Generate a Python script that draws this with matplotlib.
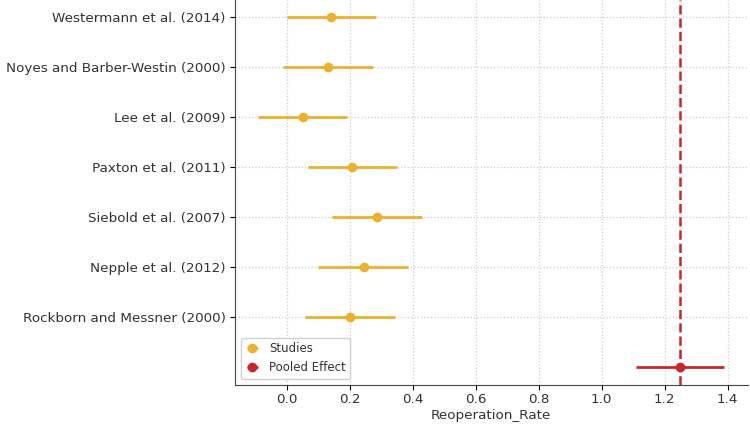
import matplotlib
matplotlib.use("Agg")
import matplotlib.pyplot as plt
import numpy as np

# study names, bottom to top
studies = ["Rockborn and Messner (2000)", "Nepple et al. (2012)", "Siebold et al. (2007)",
           "Paxton et al. (2011)", "Lee et al. (2009)", "Noyes and Barber-Westin (2000)",
           "Westermann et al. (2014)"]
rates = [0.200, 0.244, 0.286, 0.206, 0.051, 0.130, 0.140]
ci_low = [0.057, 0.100, 0.143, 0.067, -0.092, -0.013, 0.000]
ci_high = [0.343, 0.384, 0.429, 0.349, 0.190, 0.273, 0.283]

pooled = 1.25
pooled_low = 1.11
pooled_high = 1.39

study_col = "#EBB12F"
pooled_col = "#C8282A"
text_col = "#333333"

fig = plt.figure(figsize=(7.5, 4.32), dpi=100)
ax = fig.add_axes([0.313, 0.109, 0.684, 0.891])

y = np.arange(1, len(studies) + 1)
r = np.array(rates)
err = [r - np.array(ci_low), np.array(ci_high) - r]
ax.errorbar(r, y, xerr=err, fmt="o", color=study_col, ecolor=study_col,
            elinewidth=2, markersize=6, label="Studies", zorder=3)
ax.errorbar([pooled], [0], xerr=[[pooled - pooled_low], [pooled_high - pooled]],
            fmt="o", color=pooled_col, ecolor=pooled_col, elinewidth=2,
            markersize=6, label="Pooled Effect", zorder=3)
ax.axvline(pooled, color=pooled_col, linestyle="--", linewidth=1.8, zorder=2)

ax.set_yticks(y)
ax.set_yticklabels(studies, fontsize=9.7, color=text_col)
ax.set_xticks(np.arange(0, 1.41, 0.2))
ax.tick_params(axis="x", labelsize=9.7, labelcolor=text_col, pad=2.5)
ax.tick_params(axis="y", pad=3)
ax.set_xlim(-0.166, 1.464)
ax.set_ylim(-0.36, 7.34)
ax.set_xlabel("Reoperation_Rate", fontsize=9.7, color=text_col, labelpad=2)

ax.grid(True, linestyle=":", color="#cccccc", linewidth=0.9)
ax.set_axisbelow(True)
for s in ["top", "right"]:
    ax.spines[s].set_visible(False)
for s in ["left", "bottom"]:
    ax.spines[s].set_color("#444444")

leg = ax.legend(loc="lower left", fontsize=8.5, handlelength=1.2, framealpha=0.9,
                labelcolor=text_col)

fig.savefig("out.png", dpi=100)
